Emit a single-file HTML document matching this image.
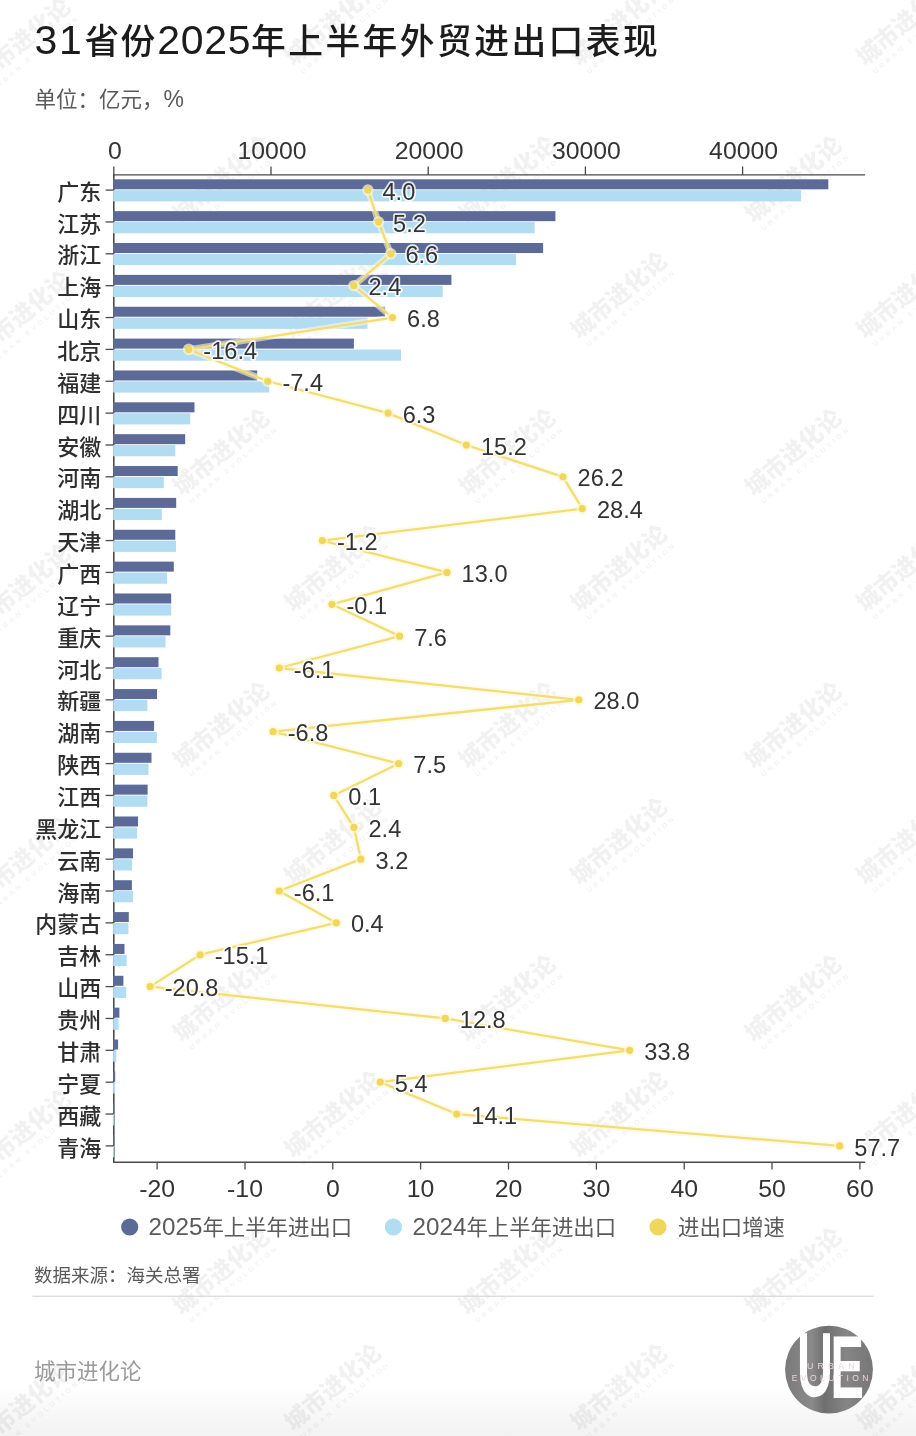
<!DOCTYPE html>
<html lang="zh-CN"><head><meta charset="utf-8"><title>31省份2025年上半年外贸进出口表现</title>
<style>
html,body{margin:0;padding:0;background:#fff}
body{width:916px;height:1436px;overflow:hidden}
svg{display:block}
text{font-family:"Liberation Sans","Noto Sans CJK SC",sans-serif}
.cjk{font-family:"Liberation Sans","Noto Sans CJK SC",sans-serif}
.num{font-size:24.8px}
.lab{font-size:24.7px;paint-order:stroke;stroke:#fff;stroke-width:3.6px;stroke-linejoin:round;stroke-opacity:.85}
.cat{font-size:22px;text-anchor:end;font-weight:500;fill:#2e2e2e}
.wm text{fill:#000}
</style></head><body>
<svg width="916" height="1436" viewBox="0 0 916 1436" fill="#333333">
<defs><linearGradient id="bg" x1="0" x2="0" y1="0" y2="1"><stop offset="0" stop-color="#ffffff"/><stop offset="1" stop-color="#f2f2f2"/></linearGradient></defs>
<rect width="916" height="1436" fill="#ffffff"/><rect y="1386" width="916" height="50" fill="url(#bg)"/>

<g fill="#000" fill-opacity="0.055" text-anchor="middle" font-weight="900">
<g transform="translate(22.0 41.0) rotate(-40.5)"><text y="8.5" font-size="23.5" textLength="118" lengthAdjust="spacing">城市进化论</text><text y="20.5" font-size="6.8" textLength="112" lengthAdjust="spacing" fill-opacity="0.06">URBAN EVOLUTION</text></g>
<g transform="translate(22.0 314.0) rotate(-40.5)"><text y="8.5" font-size="23.5" textLength="118" lengthAdjust="spacing">城市进化论</text><text y="20.5" font-size="6.8" textLength="112" lengthAdjust="spacing" fill-opacity="0.06">URBAN EVOLUTION</text></g>
<g transform="translate(22.0 587.0) rotate(-40.5)"><text y="8.5" font-size="23.5" textLength="118" lengthAdjust="spacing">城市进化论</text><text y="20.5" font-size="6.8" textLength="112" lengthAdjust="spacing" fill-opacity="0.06">URBAN EVOLUTION</text></g>
<g transform="translate(22.0 860.0) rotate(-40.5)"><text y="8.5" font-size="23.5" textLength="118" lengthAdjust="spacing">城市进化论</text><text y="20.5" font-size="6.8" textLength="112" lengthAdjust="spacing" fill-opacity="0.06">URBAN EVOLUTION</text></g>
<g transform="translate(22.0 1133.0) rotate(-40.5)"><text y="8.5" font-size="23.5" textLength="118" lengthAdjust="spacing">城市进化论</text><text y="20.5" font-size="6.8" textLength="112" lengthAdjust="spacing" fill-opacity="0.06">URBAN EVOLUTION</text></g>
<g transform="translate(22.0 1406.0) rotate(-40.5)"><text y="8.5" font-size="23.5" textLength="118" lengthAdjust="spacing">城市进化论</text><text y="20.5" font-size="6.8" textLength="112" lengthAdjust="spacing" fill-opacity="0.06">URBAN EVOLUTION</text></g>
<g transform="translate(332.5 22.0) rotate(-40.5)"><text y="8.5" font-size="23.5" textLength="118" lengthAdjust="spacing">城市进化论</text><text y="20.5" font-size="6.8" textLength="112" lengthAdjust="spacing" fill-opacity="0.06">URBAN EVOLUTION</text></g>
<g transform="translate(332.5 295.0) rotate(-40.5)"><text y="8.5" font-size="23.5" textLength="118" lengthAdjust="spacing">城市进化论</text><text y="20.5" font-size="6.8" textLength="112" lengthAdjust="spacing" fill-opacity="0.06">URBAN EVOLUTION</text></g>
<g transform="translate(332.5 568.0) rotate(-40.5)"><text y="8.5" font-size="23.5" textLength="118" lengthAdjust="spacing">城市进化论</text><text y="20.5" font-size="6.8" textLength="112" lengthAdjust="spacing" fill-opacity="0.06">URBAN EVOLUTION</text></g>
<g transform="translate(332.5 841.0) rotate(-40.5)"><text y="8.5" font-size="23.5" textLength="118" lengthAdjust="spacing">城市进化论</text><text y="20.5" font-size="6.8" textLength="112" lengthAdjust="spacing" fill-opacity="0.06">URBAN EVOLUTION</text></g>
<g transform="translate(332.5 1114.0) rotate(-40.5)"><text y="8.5" font-size="23.5" textLength="118" lengthAdjust="spacing">城市进化论</text><text y="20.5" font-size="6.8" textLength="112" lengthAdjust="spacing" fill-opacity="0.06">URBAN EVOLUTION</text></g>
<g transform="translate(332.5 1387.0) rotate(-40.5)"><text y="8.5" font-size="23.5" textLength="118" lengthAdjust="spacing">城市进化论</text><text y="20.5" font-size="6.8" textLength="112" lengthAdjust="spacing" fill-opacity="0.06">URBAN EVOLUTION</text></g>
<g transform="translate(618.5 22.0) rotate(-40.5)"><text y="8.5" font-size="23.5" textLength="118" lengthAdjust="spacing">城市进化论</text><text y="20.5" font-size="6.8" textLength="112" lengthAdjust="spacing" fill-opacity="0.06">URBAN EVOLUTION</text></g>
<g transform="translate(618.5 295.0) rotate(-40.5)"><text y="8.5" font-size="23.5" textLength="118" lengthAdjust="spacing">城市进化论</text><text y="20.5" font-size="6.8" textLength="112" lengthAdjust="spacing" fill-opacity="0.06">URBAN EVOLUTION</text></g>
<g transform="translate(618.5 568.0) rotate(-40.5)"><text y="8.5" font-size="23.5" textLength="118" lengthAdjust="spacing">城市进化论</text><text y="20.5" font-size="6.8" textLength="112" lengthAdjust="spacing" fill-opacity="0.06">URBAN EVOLUTION</text></g>
<g transform="translate(618.5 841.0) rotate(-40.5)"><text y="8.5" font-size="23.5" textLength="118" lengthAdjust="spacing">城市进化论</text><text y="20.5" font-size="6.8" textLength="112" lengthAdjust="spacing" fill-opacity="0.06">URBAN EVOLUTION</text></g>
<g transform="translate(618.5 1114.0) rotate(-40.5)"><text y="8.5" font-size="23.5" textLength="118" lengthAdjust="spacing">城市进化论</text><text y="20.5" font-size="6.8" textLength="112" lengthAdjust="spacing" fill-opacity="0.06">URBAN EVOLUTION</text></g>
<g transform="translate(618.5 1387.0) rotate(-40.5)"><text y="8.5" font-size="23.5" textLength="118" lengthAdjust="spacing">城市进化论</text><text y="20.5" font-size="6.8" textLength="112" lengthAdjust="spacing" fill-opacity="0.06">URBAN EVOLUTION</text></g>
<g transform="translate(904.5 22.0) rotate(-40.5)"><text y="8.5" font-size="23.5" textLength="118" lengthAdjust="spacing">城市进化论</text><text y="20.5" font-size="6.8" textLength="112" lengthAdjust="spacing" fill-opacity="0.06">URBAN EVOLUTION</text></g>
<g transform="translate(904.5 295.0) rotate(-40.5)"><text y="8.5" font-size="23.5" textLength="118" lengthAdjust="spacing">城市进化论</text><text y="20.5" font-size="6.8" textLength="112" lengthAdjust="spacing" fill-opacity="0.06">URBAN EVOLUTION</text></g>
<g transform="translate(904.5 568.0) rotate(-40.5)"><text y="8.5" font-size="23.5" textLength="118" lengthAdjust="spacing">城市进化论</text><text y="20.5" font-size="6.8" textLength="112" lengthAdjust="spacing" fill-opacity="0.06">URBAN EVOLUTION</text></g>
<g transform="translate(904.5 841.0) rotate(-40.5)"><text y="8.5" font-size="23.5" textLength="118" lengthAdjust="spacing">城市进化论</text><text y="20.5" font-size="6.8" textLength="112" lengthAdjust="spacing" fill-opacity="0.06">URBAN EVOLUTION</text></g>
<g transform="translate(904.5 1114.0) rotate(-40.5)"><text y="8.5" font-size="23.5" textLength="118" lengthAdjust="spacing">城市进化论</text><text y="20.5" font-size="6.8" textLength="112" lengthAdjust="spacing" fill-opacity="0.06">URBAN EVOLUTION</text></g>
<g transform="translate(904.5 1387.0) rotate(-40.5)"><text y="8.5" font-size="23.5" textLength="118" lengthAdjust="spacing">城市进化论</text><text y="20.5" font-size="6.8" textLength="112" lengthAdjust="spacing" fill-opacity="0.06">URBAN EVOLUTION</text></g>
<g transform="translate(221.0 179.0) rotate(-40.5)"><text y="8.5" font-size="23.5" textLength="118" lengthAdjust="spacing">城市进化论</text><text y="20.5" font-size="6.8" textLength="112" lengthAdjust="spacing" fill-opacity="0.06">URBAN EVOLUTION</text></g>
<g transform="translate(221.0 452.0) rotate(-40.5)"><text y="8.5" font-size="23.5" textLength="118" lengthAdjust="spacing">城市进化论</text><text y="20.5" font-size="6.8" textLength="112" lengthAdjust="spacing" fill-opacity="0.06">URBAN EVOLUTION</text></g>
<g transform="translate(221.0 725.0) rotate(-40.5)"><text y="8.5" font-size="23.5" textLength="118" lengthAdjust="spacing">城市进化论</text><text y="20.5" font-size="6.8" textLength="112" lengthAdjust="spacing" fill-opacity="0.06">URBAN EVOLUTION</text></g>
<g transform="translate(221.0 998.0) rotate(-40.5)"><text y="8.5" font-size="23.5" textLength="118" lengthAdjust="spacing">城市进化论</text><text y="20.5" font-size="6.8" textLength="112" lengthAdjust="spacing" fill-opacity="0.06">URBAN EVOLUTION</text></g>
<g transform="translate(221.0 1271.0) rotate(-40.5)"><text y="8.5" font-size="23.5" textLength="118" lengthAdjust="spacing">城市进化论</text><text y="20.5" font-size="6.8" textLength="112" lengthAdjust="spacing" fill-opacity="0.06">URBAN EVOLUTION</text></g>
<g transform="translate(507.0 179.0) rotate(-40.5)"><text y="8.5" font-size="23.5" textLength="118" lengthAdjust="spacing">城市进化论</text><text y="20.5" font-size="6.8" textLength="112" lengthAdjust="spacing" fill-opacity="0.06">URBAN EVOLUTION</text></g>
<g transform="translate(507.0 452.0) rotate(-40.5)"><text y="8.5" font-size="23.5" textLength="118" lengthAdjust="spacing">城市进化论</text><text y="20.5" font-size="6.8" textLength="112" lengthAdjust="spacing" fill-opacity="0.06">URBAN EVOLUTION</text></g>
<g transform="translate(507.0 725.0) rotate(-40.5)"><text y="8.5" font-size="23.5" textLength="118" lengthAdjust="spacing">城市进化论</text><text y="20.5" font-size="6.8" textLength="112" lengthAdjust="spacing" fill-opacity="0.06">URBAN EVOLUTION</text></g>
<g transform="translate(507.0 998.0) rotate(-40.5)"><text y="8.5" font-size="23.5" textLength="118" lengthAdjust="spacing">城市进化论</text><text y="20.5" font-size="6.8" textLength="112" lengthAdjust="spacing" fill-opacity="0.06">URBAN EVOLUTION</text></g>
<g transform="translate(507.0 1271.0) rotate(-40.5)"><text y="8.5" font-size="23.5" textLength="118" lengthAdjust="spacing">城市进化论</text><text y="20.5" font-size="6.8" textLength="112" lengthAdjust="spacing" fill-opacity="0.06">URBAN EVOLUTION</text></g>
<g transform="translate(793.0 179.0) rotate(-40.5)"><text y="8.5" font-size="23.5" textLength="118" lengthAdjust="spacing">城市进化论</text><text y="20.5" font-size="6.8" textLength="112" lengthAdjust="spacing" fill-opacity="0.06">URBAN EVOLUTION</text></g>
<g transform="translate(793.0 452.0) rotate(-40.5)"><text y="8.5" font-size="23.5" textLength="118" lengthAdjust="spacing">城市进化论</text><text y="20.5" font-size="6.8" textLength="112" lengthAdjust="spacing" fill-opacity="0.06">URBAN EVOLUTION</text></g>
<g transform="translate(793.0 725.0) rotate(-40.5)"><text y="8.5" font-size="23.5" textLength="118" lengthAdjust="spacing">城市进化论</text><text y="20.5" font-size="6.8" textLength="112" lengthAdjust="spacing" fill-opacity="0.06">URBAN EVOLUTION</text></g>
<g transform="translate(793.0 998.0) rotate(-40.5)"><text y="8.5" font-size="23.5" textLength="118" lengthAdjust="spacing">城市进化论</text><text y="20.5" font-size="6.8" textLength="112" lengthAdjust="spacing" fill-opacity="0.06">URBAN EVOLUTION</text></g>
<g transform="translate(793.0 1271.0) rotate(-40.5)"><text y="8.5" font-size="23.5" textLength="118" lengthAdjust="spacing">城市进化论</text><text y="20.5" font-size="6.8" textLength="112" lengthAdjust="spacing" fill-opacity="0.06">URBAN EVOLUTION</text></g>
</g>
<text y="54" font-size="34.8" font-weight="500" fill="#1c1c1c"><tspan x="34.6" font-size="41" letter-spacing="1.5">31</tspan><tspan x="84.5" letter-spacing="1.2">省份</tspan><tspan x="157.2" font-size="41" letter-spacing="0.7">2025</tspan><tspan x="251" letter-spacing="2.4">年上半年外贸进出口表现</tspan></text>
<text x="34.5" y="107.3" font-size="21.5" fill="#5a5a5a">单位：亿元，<tspan font-size="23">%</tspan></text>
<path d="M113.8 174.20000000000002V1162.95" stroke="#4a4a4a" stroke-width="1.6" fill="none"/>
<g>
<rect x="113.1" y="179.30" width="715.2" height="10.0" fill="#5b6a97"/>
<rect x="113.1" y="190.20" width="687.9" height="11.2" fill="#b1dcf2"/>
<rect x="113.1" y="211.16" width="442.3" height="10.0" fill="#5b6a97"/>
<rect x="113.1" y="222.06" width="421.6" height="11.2" fill="#b1dcf2"/>
<rect x="113.1" y="243.02" width="430.0" height="10.0" fill="#5b6a97"/>
<rect x="113.1" y="253.92" width="403.0" height="11.2" fill="#b1dcf2"/>
<rect x="113.1" y="274.88" width="338.3" height="10.0" fill="#5b6a97"/>
<rect x="113.1" y="285.78" width="329.6" height="11.2" fill="#b1dcf2"/>
<rect x="113.1" y="306.74" width="272.0" height="10.0" fill="#5b6a97"/>
<rect x="113.1" y="317.64" width="254.4" height="11.2" fill="#b1dcf2"/>
<rect x="113.1" y="338.60" width="240.8" height="10.0" fill="#5b6a97"/>
<rect x="113.1" y="349.50" width="287.9" height="11.2" fill="#b1dcf2"/>
<rect x="113.1" y="370.46" width="144.1" height="10.0" fill="#5b6a97"/>
<rect x="113.1" y="381.36" width="156.1" height="11.2" fill="#b1dcf2"/>
<rect x="113.1" y="402.32" width="81.4" height="10.0" fill="#5b6a97"/>
<rect x="113.1" y="413.22" width="77.1" height="11.2" fill="#b1dcf2"/>
<rect x="113.1" y="434.18" width="72.1" height="10.0" fill="#5b6a97"/>
<rect x="113.1" y="445.08" width="62.2" height="11.2" fill="#b1dcf2"/>
<rect x="113.1" y="466.04" width="64.6" height="10.0" fill="#5b6a97"/>
<rect x="113.1" y="476.94" width="50.7" height="11.2" fill="#b1dcf2"/>
<rect x="113.1" y="497.90" width="63.1" height="10.0" fill="#5b6a97"/>
<rect x="113.1" y="508.80" width="48.7" height="11.2" fill="#b1dcf2"/>
<rect x="113.1" y="529.76" width="62.2" height="10.0" fill="#5b6a97"/>
<rect x="113.1" y="540.66" width="62.9" height="11.2" fill="#b1dcf2"/>
<rect x="113.1" y="561.62" width="60.7" height="10.0" fill="#5b6a97"/>
<rect x="113.1" y="572.52" width="53.9" height="11.2" fill="#b1dcf2"/>
<rect x="113.1" y="593.48" width="58.1" height="10.0" fill="#5b6a97"/>
<rect x="113.1" y="604.38" width="58.1" height="11.2" fill="#b1dcf2"/>
<rect x="113.1" y="625.34" width="57.2" height="10.0" fill="#5b6a97"/>
<rect x="113.1" y="636.24" width="52.4" height="11.2" fill="#b1dcf2"/>
<rect x="113.1" y="657.20" width="45.4" height="10.0" fill="#5b6a97"/>
<rect x="113.1" y="668.10" width="48.5" height="11.2" fill="#b1dcf2"/>
<rect x="113.1" y="689.06" width="43.9" height="10.0" fill="#5b6a97"/>
<rect x="113.1" y="699.96" width="34.3" height="11.2" fill="#b1dcf2"/>
<rect x="113.1" y="720.92" width="41.0" height="10.0" fill="#5b6a97"/>
<rect x="113.1" y="731.82" width="43.7" height="11.2" fill="#b1dcf2"/>
<rect x="113.1" y="752.78" width="38.4" height="10.0" fill="#5b6a97"/>
<rect x="113.1" y="763.68" width="35.4" height="11.2" fill="#b1dcf2"/>
<rect x="113.1" y="784.64" width="34.5" height="10.0" fill="#5b6a97"/>
<rect x="113.1" y="795.54" width="34.3" height="11.2" fill="#b1dcf2"/>
<rect x="113.1" y="816.50" width="24.9" height="10.0" fill="#5b6a97"/>
<rect x="113.1" y="827.40" width="24.0" height="11.2" fill="#b1dcf2"/>
<rect x="113.1" y="848.36" width="19.9" height="10.0" fill="#5b6a97"/>
<rect x="113.1" y="859.26" width="19.0" height="11.2" fill="#b1dcf2"/>
<rect x="113.1" y="880.22" width="18.8" height="10.0" fill="#5b6a97"/>
<rect x="113.1" y="891.12" width="19.9" height="11.2" fill="#b1dcf2"/>
<rect x="113.1" y="912.08" width="15.7" height="10.0" fill="#5b6a97"/>
<rect x="113.1" y="922.98" width="15.3" height="11.2" fill="#b1dcf2"/>
<rect x="113.1" y="943.94" width="11.4" height="10.0" fill="#5b6a97"/>
<rect x="113.1" y="954.84" width="13.5" height="11.2" fill="#b1dcf2"/>
<rect x="113.1" y="975.80" width="10.3" height="10.0" fill="#5b6a97"/>
<rect x="113.1" y="986.70" width="13.1" height="11.2" fill="#b1dcf2"/>
<rect x="113.1" y="1007.66" width="6.3" height="10.0" fill="#5b6a97"/>
<rect x="113.1" y="1018.56" width="5.4" height="11.2" fill="#b1dcf2"/>
<rect x="113.1" y="1039.52" width="5.0" height="10.0" fill="#5b6a97"/>
<rect x="113.1" y="1050.42" width="3.3" height="11.2" fill="#b1dcf2"/>
<rect x="113.1" y="1071.38" width="2.1" height="10.0" fill="#5b6a97"/>
<rect x="113.1" y="1082.28" width="2.0" height="11.2" fill="#b1dcf2"/>
<rect x="113.1" y="1103.24" width="1.2" height="10.0" fill="#5b6a97"/>
<rect x="113.1" y="1114.14" width="1.1" height="11.2" fill="#b1dcf2"/>
<rect x="113.1" y="1135.10" width="1.1" height="10.0" fill="#5b6a97"/>
<rect x="113.1" y="1146.00" width="1.0" height="11.2" fill="#b1dcf2"/>
</g>
<g stroke="#4a4a4a" stroke-width="1.3" fill="none">
<path d="M113.1 174.9H865"/>
<path d="M113.1 1162.25H865.2"/>
<path d="M113.8 174.9v-8.5"/>
<path d="M271.0 174.9v-8.5"/>
<path d="M428.2 174.9v-8.5"/>
<path d="M585.4 174.9v-8.5"/>
<path d="M742.6 174.9v-8.5"/>
<path d="M157.1 1162.25v7.3"/>
<path d="M245.0 1162.25v7.3"/>
<path d="M332.8 1162.25v7.3"/>
<path d="M420.6 1162.25v7.3"/>
<path d="M508.5 1162.25v7.3"/>
<path d="M596.4 1162.25v7.3"/>
<path d="M684.2 1162.25v7.3"/>
<path d="M772.0 1162.25v7.3"/>
<path d="M859.9 1162.25v7.3"/>
<path d="M113.1 190.10H105.6"/>
<path d="M113.1 221.96H105.6"/>
<path d="M113.1 253.82H105.6"/>
<path d="M113.1 285.68H105.6"/>
<path d="M113.1 317.54H105.6"/>
<path d="M113.1 349.40H105.6"/>
<path d="M113.1 381.26H105.6"/>
<path d="M113.1 413.12H105.6"/>
<path d="M113.1 444.98H105.6"/>
<path d="M113.1 476.84H105.6"/>
<path d="M113.1 508.70H105.6"/>
<path d="M113.1 540.56H105.6"/>
<path d="M113.1 572.42H105.6"/>
<path d="M113.1 604.28H105.6"/>
<path d="M113.1 636.14H105.6"/>
<path d="M113.1 668.00H105.6"/>
<path d="M113.1 699.86H105.6"/>
<path d="M113.1 731.72H105.6"/>
<path d="M113.1 763.58H105.6"/>
<path d="M113.1 795.44H105.6"/>
<path d="M113.1 827.30H105.6"/>
<path d="M113.1 859.16H105.6"/>
<path d="M113.1 891.02H105.6"/>
<path d="M113.1 922.88H105.6"/>
<path d="M113.1 954.74H105.6"/>
<path d="M113.1 986.60H105.6"/>
<path d="M113.1 1018.46H105.6"/>
<path d="M113.1 1050.32H105.6"/>
<path d="M113.1 1082.18H105.6"/>
<path d="M113.1 1114.04H105.6"/>
<path d="M113.1 1145.90H105.6"/>
</g>
<text class="num" x="114.8" y="159.3" text-anchor="middle">0</text>
<text class="num" x="272.0" y="159.3" text-anchor="middle">10000</text>
<text class="num" x="429.2" y="159.3" text-anchor="middle">20000</text>
<text class="num" x="586.4" y="159.3" text-anchor="middle">30000</text>
<text class="num" x="743.6" y="159.3" text-anchor="middle">40000</text>
<text class="num" x="157.1" y="1197" text-anchor="middle">-20</text>
<text class="num" x="245.0" y="1197" text-anchor="middle">-10</text>
<text class="num" x="332.8" y="1197" text-anchor="middle">0</text>
<text class="num" x="420.6" y="1197" text-anchor="middle">10</text>
<text class="num" x="508.5" y="1197" text-anchor="middle">20</text>
<text class="num" x="596.4" y="1197" text-anchor="middle">30</text>
<text class="num" x="684.2" y="1197" text-anchor="middle">40</text>
<text class="num" x="772.0" y="1197" text-anchor="middle">50</text>
<text class="num" x="859.9" y="1197" text-anchor="middle">60</text>
<text class="cat" x="101.3" y="199.70">广东</text>
<text class="cat" x="101.3" y="231.56">江苏</text>
<text class="cat" x="101.3" y="263.42">浙江</text>
<text class="cat" x="101.3" y="295.28">上海</text>
<text class="cat" x="101.3" y="327.14">山东</text>
<text class="cat" x="101.3" y="359.00">北京</text>
<text class="cat" x="101.3" y="390.86">福建</text>
<text class="cat" x="101.3" y="422.72">四川</text>
<text class="cat" x="101.3" y="454.58">安徽</text>
<text class="cat" x="101.3" y="486.44">河南</text>
<text class="cat" x="101.3" y="518.30">湖北</text>
<text class="cat" x="101.3" y="550.16">天津</text>
<text class="cat" x="101.3" y="582.02">广西</text>
<text class="cat" x="101.3" y="613.88">辽宁</text>
<text class="cat" x="101.3" y="645.74">重庆</text>
<text class="cat" x="101.3" y="677.60">河北</text>
<text class="cat" x="101.3" y="709.46">新疆</text>
<text class="cat" x="101.3" y="741.32">湖南</text>
<text class="cat" x="101.3" y="773.18">陕西</text>
<text class="cat" x="101.3" y="805.04">江西</text>
<text class="cat" x="101.3" y="836.90">黑龙江</text>
<text class="cat" x="101.3" y="868.76">云南</text>
<text class="cat" x="101.3" y="900.62">海南</text>
<text class="cat" x="101.3" y="932.48">内蒙古</text>
<text class="cat" x="101.3" y="964.34">吉林</text>
<text class="cat" x="101.3" y="996.20">山西</text>
<text class="cat" x="101.3" y="1028.06">贵州</text>
<text class="cat" x="101.3" y="1059.92">甘肃</text>
<text class="cat" x="101.3" y="1091.78">宁夏</text>
<text class="cat" x="101.3" y="1123.64">西藏</text>
<text class="cat" x="101.3" y="1155.50">青海</text>
<polyline points="367.9,190.10 378.5,221.96 390.8,253.82 353.9,285.68 392.5,317.54 188.7,349.40 267.8,381.26 388.1,413.12 466.3,444.98 563.0,476.84 582.3,508.70 322.3,540.56 447.0,572.42 331.9,604.28 399.6,636.14 279.2,668.00 578.8,699.86 273.1,731.72 398.7,763.58 333.7,795.44 353.9,827.30 360.9,859.16 279.2,891.02 336.3,922.88 200.1,954.74 150.1,986.60 445.2,1018.46 629.7,1050.32 380.2,1082.18 456.7,1114.04 839.7,1145.90" fill="none" stroke="#fdf8dc" stroke-opacity=".6" stroke-width="6.2" stroke-linejoin="round"/>
<polyline points="367.9,190.10 378.5,221.96 390.8,253.82 353.9,285.68 392.5,317.54 188.7,349.40 267.8,381.26 388.1,413.12 466.3,444.98 563.0,476.84 582.3,508.70 322.3,540.56 447.0,572.42 331.9,604.28 399.6,636.14 279.2,668.00 578.8,699.86 273.1,731.72 398.7,763.58 333.7,795.44 353.9,827.30 360.9,859.16 279.2,891.02 336.3,922.88 200.1,954.74 150.1,986.60 445.2,1018.46 629.7,1050.32 380.2,1082.18 456.7,1114.04 839.7,1145.90" fill="none" stroke="#f2dd74" stroke-width="2.3" stroke-linejoin="round"/>
<circle cx="367.9" cy="190.10" r="5.8" fill="#fdf6d2" fill-opacity=".7"/>
<circle cx="367.9" cy="190.10" r="3.6" fill="#f0d75c"/>
<circle cx="378.5" cy="221.96" r="5.8" fill="#fdf6d2" fill-opacity=".7"/>
<circle cx="378.5" cy="221.96" r="3.6" fill="#f0d75c"/>
<circle cx="390.8" cy="253.82" r="5.8" fill="#fdf6d2" fill-opacity=".7"/>
<circle cx="390.8" cy="253.82" r="3.6" fill="#f0d75c"/>
<circle cx="353.9" cy="285.68" r="5.8" fill="#fdf6d2" fill-opacity=".7"/>
<circle cx="353.9" cy="285.68" r="3.6" fill="#f0d75c"/>
<circle cx="392.5" cy="317.54" r="5.8" fill="#fdf6d2" fill-opacity=".7"/>
<circle cx="392.5" cy="317.54" r="3.6" fill="#f0d75c"/>
<circle cx="188.7" cy="349.40" r="5.8" fill="#fdf6d2" fill-opacity=".7"/>
<circle cx="188.7" cy="349.40" r="3.6" fill="#f0d75c"/>
<circle cx="267.8" cy="381.26" r="5.8" fill="#fdf6d2" fill-opacity=".7"/>
<circle cx="267.8" cy="381.26" r="3.6" fill="#f0d75c"/>
<circle cx="388.1" cy="413.12" r="5.8" fill="#fdf6d2" fill-opacity=".7"/>
<circle cx="388.1" cy="413.12" r="3.6" fill="#f0d75c"/>
<circle cx="466.3" cy="444.98" r="5.8" fill="#fdf6d2" fill-opacity=".7"/>
<circle cx="466.3" cy="444.98" r="3.6" fill="#f0d75c"/>
<circle cx="563.0" cy="476.84" r="5.8" fill="#fdf6d2" fill-opacity=".7"/>
<circle cx="563.0" cy="476.84" r="3.6" fill="#f0d75c"/>
<circle cx="582.3" cy="508.70" r="5.8" fill="#fdf6d2" fill-opacity=".7"/>
<circle cx="582.3" cy="508.70" r="3.6" fill="#f0d75c"/>
<circle cx="322.3" cy="540.56" r="5.8" fill="#fdf6d2" fill-opacity=".7"/>
<circle cx="322.3" cy="540.56" r="3.6" fill="#f0d75c"/>
<circle cx="447.0" cy="572.42" r="5.8" fill="#fdf6d2" fill-opacity=".7"/>
<circle cx="447.0" cy="572.42" r="3.6" fill="#f0d75c"/>
<circle cx="331.9" cy="604.28" r="5.8" fill="#fdf6d2" fill-opacity=".7"/>
<circle cx="331.9" cy="604.28" r="3.6" fill="#f0d75c"/>
<circle cx="399.6" cy="636.14" r="5.8" fill="#fdf6d2" fill-opacity=".7"/>
<circle cx="399.6" cy="636.14" r="3.6" fill="#f0d75c"/>
<circle cx="279.2" cy="668.00" r="5.8" fill="#fdf6d2" fill-opacity=".7"/>
<circle cx="279.2" cy="668.00" r="3.6" fill="#f0d75c"/>
<circle cx="578.8" cy="699.86" r="5.8" fill="#fdf6d2" fill-opacity=".7"/>
<circle cx="578.8" cy="699.86" r="3.6" fill="#f0d75c"/>
<circle cx="273.1" cy="731.72" r="5.8" fill="#fdf6d2" fill-opacity=".7"/>
<circle cx="273.1" cy="731.72" r="3.6" fill="#f0d75c"/>
<circle cx="398.7" cy="763.58" r="5.8" fill="#fdf6d2" fill-opacity=".7"/>
<circle cx="398.7" cy="763.58" r="3.6" fill="#f0d75c"/>
<circle cx="333.7" cy="795.44" r="5.8" fill="#fdf6d2" fill-opacity=".7"/>
<circle cx="333.7" cy="795.44" r="3.6" fill="#f0d75c"/>
<circle cx="353.9" cy="827.30" r="5.8" fill="#fdf6d2" fill-opacity=".7"/>
<circle cx="353.9" cy="827.30" r="3.6" fill="#f0d75c"/>
<circle cx="360.9" cy="859.16" r="5.8" fill="#fdf6d2" fill-opacity=".7"/>
<circle cx="360.9" cy="859.16" r="3.6" fill="#f0d75c"/>
<circle cx="279.2" cy="891.02" r="5.8" fill="#fdf6d2" fill-opacity=".7"/>
<circle cx="279.2" cy="891.02" r="3.6" fill="#f0d75c"/>
<circle cx="336.3" cy="922.88" r="5.8" fill="#fdf6d2" fill-opacity=".7"/>
<circle cx="336.3" cy="922.88" r="3.6" fill="#f0d75c"/>
<circle cx="200.1" cy="954.74" r="5.8" fill="#fdf6d2" fill-opacity=".7"/>
<circle cx="200.1" cy="954.74" r="3.6" fill="#f0d75c"/>
<circle cx="150.1" cy="986.60" r="5.8" fill="#fdf6d2" fill-opacity=".7"/>
<circle cx="150.1" cy="986.60" r="3.6" fill="#f0d75c"/>
<circle cx="445.2" cy="1018.46" r="5.8" fill="#fdf6d2" fill-opacity=".7"/>
<circle cx="445.2" cy="1018.46" r="3.6" fill="#f0d75c"/>
<circle cx="629.7" cy="1050.32" r="5.8" fill="#fdf6d2" fill-opacity=".7"/>
<circle cx="629.7" cy="1050.32" r="3.6" fill="#f0d75c"/>
<circle cx="380.2" cy="1082.18" r="5.8" fill="#fdf6d2" fill-opacity=".7"/>
<circle cx="380.2" cy="1082.18" r="3.6" fill="#f0d75c"/>
<circle cx="456.7" cy="1114.04" r="5.8" fill="#fdf6d2" fill-opacity=".7"/>
<circle cx="456.7" cy="1114.04" r="3.6" fill="#f0d75c"/>
<circle cx="839.7" cy="1145.90" r="5.8" fill="#fdf6d2" fill-opacity=".7"/>
<circle cx="839.7" cy="1145.90" r="3.6" fill="#f0d75c"/>
<text class="lab" transform="translate(382.5 199.70) scale(0.955 1)">4.0</text>
<text class="lab" transform="translate(393.1 231.56) scale(0.955 1)">5.2</text>
<text class="lab" transform="translate(405.4 263.42) scale(0.955 1)">6.6</text>
<text class="lab" transform="translate(368.5 295.28) scale(0.955 1)">2.4</text>
<text class="lab" transform="translate(407.1 327.14) scale(0.955 1)">6.8</text>
<text class="lab" transform="translate(203.3 359.00) scale(0.955 1)">-16.4</text>
<text class="lab" transform="translate(282.4 390.86) scale(0.955 1)">-7.4</text>
<text class="lab" transform="translate(402.7 422.72) scale(0.955 1)">6.3</text>
<text class="lab" transform="translate(480.9 454.58) scale(0.955 1)">15.2</text>
<text class="lab" transform="translate(577.6 486.44) scale(0.955 1)">26.2</text>
<text class="lab" transform="translate(596.9 518.30) scale(0.955 1)">28.4</text>
<text class="lab" transform="translate(336.9 550.16) scale(0.955 1)">-1.2</text>
<text class="lab" transform="translate(461.6 582.02) scale(0.955 1)">13.0</text>
<text class="lab" transform="translate(346.5 613.88) scale(0.955 1)">-0.1</text>
<text class="lab" transform="translate(414.2 645.74) scale(0.955 1)">7.6</text>
<text class="lab" transform="translate(293.8 677.60) scale(0.955 1)">-6.1</text>
<text class="lab" transform="translate(593.4 709.46) scale(0.955 1)">28.0</text>
<text class="lab" transform="translate(287.7 741.32) scale(0.955 1)">-6.8</text>
<text class="lab" transform="translate(413.3 773.18) scale(0.955 1)">7.5</text>
<text class="lab" transform="translate(348.3 805.04) scale(0.955 1)">0.1</text>
<text class="lab" transform="translate(368.5 836.90) scale(0.955 1)">2.4</text>
<text class="lab" transform="translate(375.5 868.76) scale(0.955 1)">3.2</text>
<text class="lab" transform="translate(293.8 900.62) scale(0.955 1)">-6.1</text>
<text class="lab" transform="translate(350.9 932.48) scale(0.955 1)">0.4</text>
<text class="lab" transform="translate(214.7 964.34) scale(0.955 1)">-15.1</text>
<text class="lab" transform="translate(164.7 996.20) scale(0.955 1)">-20.8</text>
<text class="lab" transform="translate(459.8 1028.06) scale(0.955 1)">12.8</text>
<text class="lab" transform="translate(644.3 1059.92) scale(0.955 1)">33.8</text>
<text class="lab" transform="translate(394.8 1091.78) scale(0.955 1)">5.4</text>
<text class="lab" transform="translate(471.3 1123.64) scale(0.955 1)">14.1</text>
<text class="lab" transform="translate(854.3 1155.50) scale(0.955 1)">57.7</text>
<circle cx="129.7" cy="1227" r="8.6" fill="#5b6a97"/>
<text x="148.6" y="1235.2" font-size="21.4" fill="#5a5a5a"><tspan font-size="24.2">2025</tspan>年上半年进出口</text>
<circle cx="393.4" cy="1227" r="8.6" fill="#b1dcf2"/>
<text x="412.6" y="1235.2" font-size="21.4" fill="#5a5a5a"><tspan font-size="24.2">2024</tspan>年上半年进出口</text>
<circle cx="658" cy="1227" r="8.6" fill="#f0d75c"/>
<text x="678" y="1235.2" font-size="21.4" fill="#5a5a5a">进出口增速</text>
<text x="34" y="1282" font-size="18.5" fill="#5a5a5a">数据来源：海关总署</text>
<rect x="32.5" y="1295.6" width="841" height="1.3" fill="#dadada"/>
<text x="34" y="1379" font-size="21.5" fill="#9a9a9a">城市进化论</text>
<g>
<defs><linearGradient id="lg" x1="0" x2="1" y1="0" y2="0"><stop offset="0" stop-color="#7a7a7a"/><stop offset=".3" stop-color="#8a8a8a"/><stop offset=".45" stop-color="#6f6f6f"/><stop offset=".7" stop-color="#858585"/><stop offset="1" stop-color="#777"/></linearGradient></defs>
<circle cx="829" cy="1369.6" r="43.9" fill="url(#lg)"/>
<text transform="translate(797.4 1394.4) scale(0.57 1)" font-size="85" fill="#fff" stroke="#fff" stroke-width="3.6" style="vector-effect:non-scaling-stroke">U</text>
<text transform="translate(830.9 1396) scale(0.57 1)" font-size="84" fill="#fff" stroke="#fff" stroke-width="3.4" style="vector-effect:non-scaling-stroke">E</text>
<text x="807" y="1368.8" font-size="8.8" fill="#efd3d8" letter-spacing="4.2">URBAN</text>
<text x="791.7" y="1381" font-size="8.6" fill="#efd3d8" letter-spacing="3.4">EVOLUTION</text>
</g>
</svg></body></html>
